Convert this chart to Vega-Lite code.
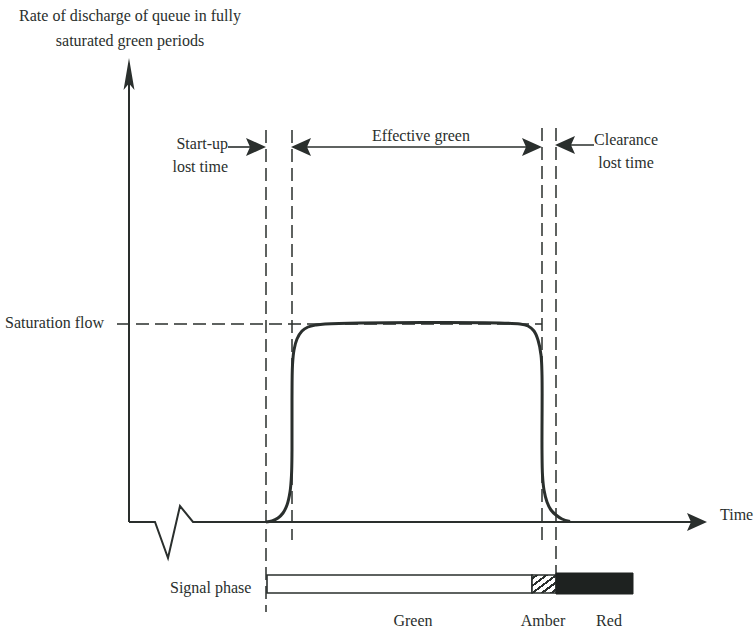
{
  "$schema": "https://vega.github.io/schema/vega-lite/v6.json",
  "width": 756,
  "height": 633,
  "autosize": {"type": "fit", "contains": "padding"},
  "padding": 0,
  "background": "#ffffff",
  "config": {
    "view": {"stroke": null},
    "text": {"font": "Liberation Serif", "fontSize": 16, "color": "#2a2f2d"}
  },
  "datasets": {
    "lines": [
      {"path": "yaxis", "i": 0, "x": 129, "y": 522},
      {"path": "yaxis", "i": 1, "x": 129, "y": 80},
      {"path": "xaxis", "i": 0, "x": 129, "y": 522},
      {"path": "xaxis", "i": 1, "x": 155, "y": 522},
      {"path": "xaxis", "i": 2, "x": 168, "y": 558},
      {"path": "xaxis", "i": 3, "x": 180, "y": 506},
      {"path": "xaxis", "i": 4, "x": 193, "y": 522},
      {"path": "xaxis", "i": 5, "x": 700, "y": 522}
    ],
    "curve": [
      {"i": 0, "x": 266, "y": 522},
      {"i": 1, "x": 272, "y": 521},
      {"i": 2, "x": 278, "y": 518},
      {"i": 3, "x": 283, "y": 513},
      {"i": 4, "x": 287, "y": 505},
      {"i": 5, "x": 290, "y": 492},
      {"i": 6, "x": 291.5, "y": 475},
      {"i": 7, "x": 292, "y": 450},
      {"i": 8, "x": 292, "y": 400},
      {"i": 9, "x": 292.5, "y": 365},
      {"i": 10, "x": 294, "y": 350},
      {"i": 11, "x": 297, "y": 339},
      {"i": 12, "x": 302, "y": 331},
      {"i": 13, "x": 308, "y": 327},
      {"i": 14, "x": 316, "y": 325},
      {"i": 15, "x": 325, "y": 324},
      {"i": 16, "x": 520, "y": 324},
      {"i": 17, "x": 528, "y": 326},
      {"i": 18, "x": 534, "y": 331},
      {"i": 19, "x": 538, "y": 340},
      {"i": 20, "x": 541, "y": 355},
      {"i": 21, "x": 542, "y": 375},
      {"i": 22, "x": 542, "y": 450},
      {"i": 23, "x": 542.5, "y": 475},
      {"i": 24, "x": 544, "y": 490},
      {"i": 25, "x": 547, "y": 502},
      {"i": 26, "x": 551, "y": 510},
      {"i": 27, "x": 556, "y": 515},
      {"i": 28, "x": 562, "y": 519},
      {"i": 29, "x": 570, "y": 521.5}
    ],
    "dashes": [
      {"x": 266, "y": 130, "x2": 266, "y2": 612},
      {"x": 292, "y": 130, "x2": 292, "y2": 540},
      {"x": 542, "y": 128, "x2": 542, "y2": 540},
      {"x": 556, "y": 128, "x2": 556, "y2": 575},
      {"x": 117, "y": 324, "x2": 542, "y2": 324}
    ],
    "shafts": [
      {"x": 228, "y": 147, "x2": 260, "y2": 147},
      {"x": 296, "y": 147, "x2": 536, "y2": 147},
      {"x": 561, "y": 145, "x2": 594, "y2": 145}
    ],
    "arrows": [
      {"x": 129, "y": 74, "dir": "up"},
      {"x": 697, "y": 522, "dir": "right"},
      {"x": 256, "y": 147, "dir": "right"},
      {"x": 301, "y": 147, "dir": "left"},
      {"x": 532, "y": 147, "dir": "right"},
      {"x": 565, "y": 145, "dir": "left"}
    ],
    "bar": [
      {"phase": "Green", "x": 267, "x2": 532, "y": 575, "y2": 593},
      {"phase": "Amber", "x": 532, "x2": 556, "y": 575, "y2": 593},
      {"phase": "Red", "x": 556, "x2": 633, "y": 573, "y2": 594}
    ],
    "labels": [
      {"anchor": "left", "text": "Saturation flow", "x": 5, "y": 328},
      {"anchor": "left", "text": "Time", "x": 720, "y": 520},
      {"anchor": "left", "text": "Signal phase", "x": 170, "y": 593},
      {"anchor": "center", "text": "Rate of discharge of queue in fully", "x": 130, "y": 21},
      {"anchor": "center", "text": "saturated green periods", "x": 130, "y": 46},
      {"anchor": "center", "text": "Effective green", "x": 421, "y": 141},
      {"anchor": "center", "text": "Clearance", "x": 626, "y": 145},
      {"anchor": "center", "text": "lost time", "x": 626, "y": 168},
      {"anchor": "center", "text": "Green", "x": 413, "y": 626},
      {"anchor": "center", "text": "Amber", "x": 543, "y": 626},
      {"anchor": "center", "text": "Red", "x": 609, "y": 626},
      {"anchor": "right", "text": "Start-up", "x": 228, "y": 149},
      {"anchor": "right", "text": "lost time", "x": 228, "y": 172}
    ]
  },
  "layer": [
    {
      "data": {"name": "dashes"},
      "mark": {"type": "rule", "strokeDash": [13, 6], "strokeWidth": 1.5, "color": "#2a2f2d"},
      "encoding": {
        "x": {"field": "x", "type": "quantitative", "scale": {"domain": [0, 756], "nice": false, "zero": false}, "axis": null},
        "y": {"field": "y", "type": "quantitative", "scale": {"domain": [0, 633], "nice": false, "zero": false, "reverse": true}, "axis": null},
        "x2": {"field": "x2"},
        "y2": {"field": "y2"}
      }
    },
    {
      "data": {"name": "shafts"},
      "mark": {"type": "rule", "strokeWidth": 1.6, "color": "#2a2f2d"},
      "encoding": {
        "x": {"field": "x", "type": "quantitative", "axis": null},
        "y": {"field": "y", "type": "quantitative", "axis": null},
        "x2": {"field": "x2"},
        "y2": {"field": "y2"}
      }
    },
    {
      "data": {"name": "lines"},
      "mark": {"type": "line", "strokeWidth": 2, "color": "#2a2f2d"},
      "encoding": {
        "x": {"field": "x", "type": "quantitative", "axis": null},
        "y": {"field": "y", "type": "quantitative", "axis": null},
        "order": {"field": "i", "type": "quantitative"},
        "detail": {"field": "path", "type": "nominal"}
      }
    },
    {
      "data": {"name": "curve"},
      "mark": {"type": "line", "strokeWidth": 3, "color": "#2a2f2d", "interpolate": "catmull-rom"},
      "encoding": {
        "x": {"field": "x", "type": "quantitative", "axis": null},
        "y": {"field": "y", "type": "quantitative", "axis": null},
        "order": {"field": "i", "type": "quantitative"}
      }
    },
    {
      "data": {"name": "arrows"},
      "transform": [{"filter": "datum.dir == 'up'"}],
      "mark": {"type": "point", "filled": true, "opacity": 1, "color": "#2a2f2d", "shape": "M1,0L-1,-0.34L-0.6,0L-1,0.34Z", "size": 1024, "angle": 270},
      "encoding": {
        "x": {"field": "x", "type": "quantitative", "axis": null},
        "y": {"field": "y", "type": "quantitative", "axis": null}
      }
    },
    {
      "data": {"name": "arrows"},
      "transform": [{"filter": "datum.dir == 'right'"}],
      "mark": {"type": "point", "filled": true, "opacity": 1, "color": "#2a2f2d", "shape": "M1,0L-1,-0.9L-0.6,0L-1,0.9Z", "size": 400, "angle": 0},
      "encoding": {
        "x": {"field": "x", "type": "quantitative", "axis": null},
        "y": {"field": "y", "type": "quantitative", "axis": null}
      }
    },
    {
      "data": {"name": "arrows"},
      "transform": [{"filter": "datum.dir == 'left'"}],
      "mark": {"type": "point", "filled": true, "opacity": 1, "color": "#2a2f2d", "shape": "M1,0L-1,-0.9L-0.6,0L-1,0.9Z", "size": 400, "angle": 180},
      "encoding": {
        "x": {"field": "x", "type": "quantitative", "axis": null},
        "y": {"field": "y", "type": "quantitative", "axis": null}
      }
    },
    {
      "data": {"name": "bar"},
      "transform": [{"filter": "datum.phase == 'Green'"}],
      "mark": {"type": "rect", "fill": "#ffffff", "stroke": "#2a2f2d", "strokeWidth": 1.6},
      "encoding": {
        "x": {"field": "x", "type": "quantitative", "axis": null},
        "x2": {"field": "x2"},
        "y": {"field": "y", "type": "quantitative", "axis": null},
        "y2": {"field": "y2"}
      }
    },
    {
      "data": {"name": "bar"},
      "transform": [{"filter": "datum.phase == 'Amber'"}],
      "mark": {
        "type": "rect",
        "stroke": "#2a2f2d",
        "strokeWidth": 1.6,
        "fill": {
          "gradient": "linear", "x1": 0, "y1": 0, "x2": 1, "y2": 1,
          "stops": [
            {"offset": 0, "color": "#ffffff"}, {"offset": 0.07, "color": "#ffffff"},
            {"offset": 0.07, "color": "#2a2f2d"}, {"offset": 0.14, "color": "#2a2f2d"},
            {"offset": 0.14, "color": "#ffffff"}, {"offset": 0.27, "color": "#ffffff"},
            {"offset": 0.27, "color": "#2a2f2d"}, {"offset": 0.34, "color": "#2a2f2d"},
            {"offset": 0.34, "color": "#ffffff"}, {"offset": 0.47, "color": "#ffffff"},
            {"offset": 0.47, "color": "#2a2f2d"}, {"offset": 0.54, "color": "#2a2f2d"},
            {"offset": 0.54, "color": "#ffffff"}, {"offset": 0.67, "color": "#ffffff"},
            {"offset": 0.67, "color": "#2a2f2d"}, {"offset": 0.74, "color": "#2a2f2d"},
            {"offset": 0.74, "color": "#ffffff"}, {"offset": 0.87, "color": "#ffffff"},
            {"offset": 0.87, "color": "#2a2f2d"}, {"offset": 0.94, "color": "#2a2f2d"},
            {"offset": 0.94, "color": "#ffffff"}, {"offset": 1, "color": "#ffffff"}
          ]
        }
      },
      "encoding": {
        "x": {"field": "x", "type": "quantitative", "axis": null},
        "x2": {"field": "x2"},
        "y": {"field": "y", "type": "quantitative", "axis": null},
        "y2": {"field": "y2"}
      }
    },
    {
      "data": {"name": "bar"},
      "transform": [{"filter": "datum.phase == 'Red'"}],
      "mark": {"type": "rect", "fill": "#1e2220", "stroke": "#1e2220", "strokeWidth": 1},
      "encoding": {
        "x": {"field": "x", "type": "quantitative", "axis": null},
        "x2": {"field": "x2"},
        "y": {"field": "y", "type": "quantitative", "axis": null},
        "y2": {"field": "y2"}
      }
    },
    {
      "data": {"name": "labels"},
      "transform": [{"filter": "datum.anchor == 'left'"}],
      "mark": {"type": "text", "align": "left", "baseline": "alphabetic"},
      "encoding": {
        "x": {"field": "x", "type": "quantitative", "axis": null},
        "y": {"field": "y", "type": "quantitative", "axis": null},
        "text": {"field": "text"}
      }
    },
    {
      "data": {"name": "labels"},
      "transform": [{"filter": "datum.anchor == 'center'"}],
      "mark": {"type": "text", "align": "center", "baseline": "alphabetic"},
      "encoding": {
        "x": {"field": "x", "type": "quantitative", "axis": null},
        "y": {"field": "y", "type": "quantitative", "axis": null},
        "text": {"field": "text"}
      }
    },
    {
      "data": {"name": "labels"},
      "transform": [{"filter": "datum.anchor == 'right'"}],
      "mark": {"type": "text", "align": "right", "baseline": "alphabetic"},
      "encoding": {
        "x": {"field": "x", "type": "quantitative", "axis": null},
        "y": {"field": "y", "type": "quantitative", "axis": null},
        "text": {"field": "text"}
      }
    }
  ]
}
